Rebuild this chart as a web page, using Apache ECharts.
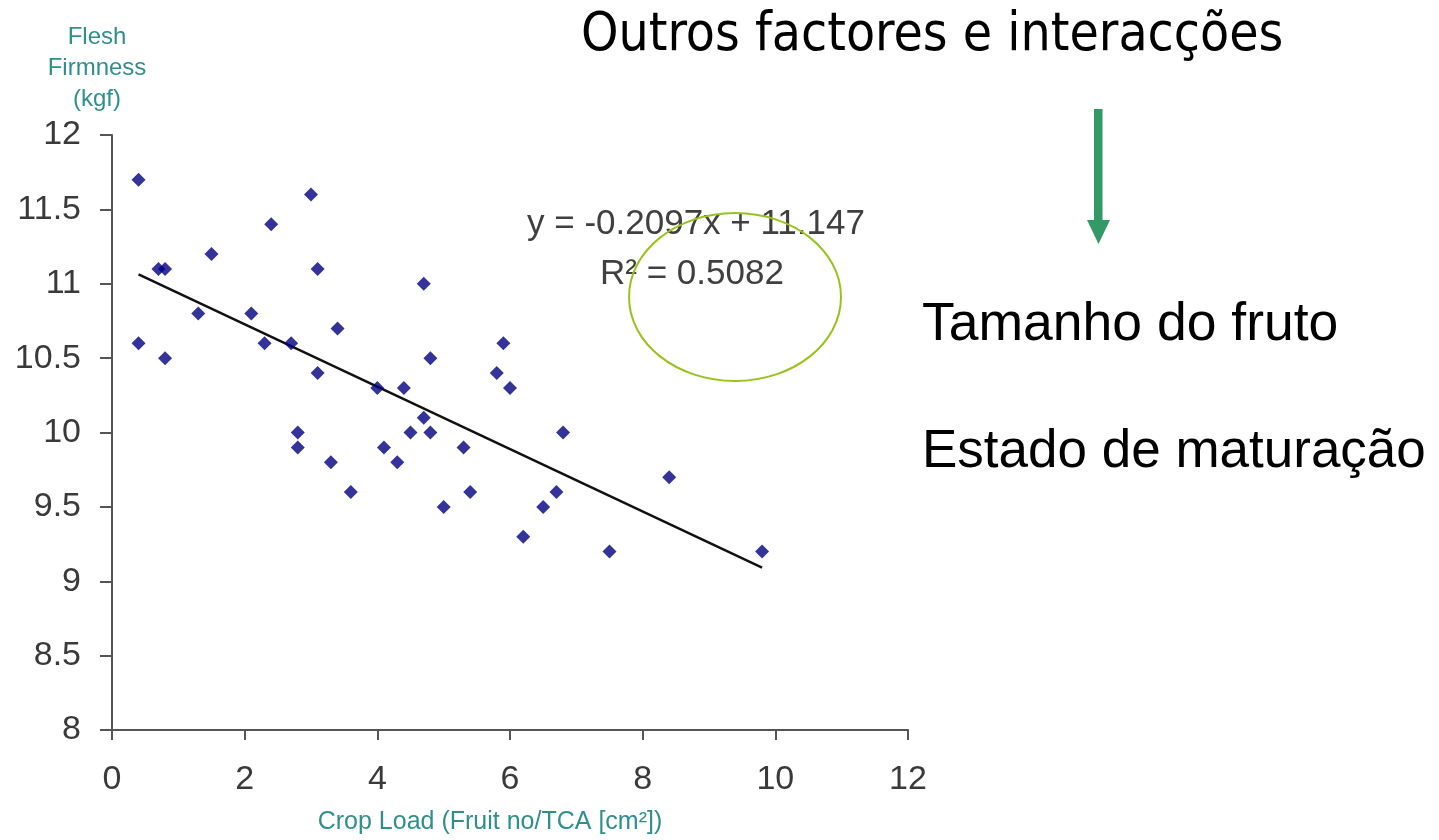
<!DOCTYPE html>
<html>
<head>
<meta charset="utf-8">
<script src="https://cdn.jsdelivr.net/npm/echarts@6/dist/echarts.min.js"></script>
<style>
html,body{margin:0;padding:0;background:#fff;}
#chart{width:1439px;height:840px;}
</style>
</head>
<body>
<div id="chart"></div>
<script>
// Crop load (x) values
var cropLoad = [0.4, 3.0, 2.4, 1.5, 0.7, 0.8, 3.1, 4.7, 1.3, 2.1, 3.4, 0.4, 2.3, 2.7, 5.9, 0.8, 4.8, 3.1, 5.8, 4.0, 4.4, 6.0, 4.7, 2.8, 4.5, 4.8, 6.8, 2.8, 4.1, 5.3, 3.3, 4.3, 8.4, 3.6, 5.4, 6.7, 5.0, 6.5, 6.2, 7.5, 9.8];
// Flesh firmness (y) values
var firmness = [11.7, 11.6, 11.4, 11.2, 11.1, 11.1, 11.1, 11.0, 10.8, 10.8, 10.7, 10.6, 10.6, 10.6, 10.6, 10.5, 10.5, 10.4, 10.4, 10.3, 10.3, 10.3, 10.1, 10.0, 10.0, 10.0, 10.0, 9.9, 9.9, 9.9, 9.8, 9.8, 9.7, 9.6, 9.6, 9.6, 9.5, 9.5, 9.3, 9.2, 9.2];
// Regression coefficients
var trendSlope = [-0.2097];
var trendIntercept = [11.147];
var rSquared = ['0.5082'];
// Tick labels
var xTicks = ['0', '2', '4', '6', '8', '10', '12'];
var yTicks = ['8', '8.5', '9', '9.5', '10', '10.5', '11', '11.5', '12'];
// Texts
var yName = 'Flesh\nFirmness\n(kgf)';
var xName = 'Crop Load (Fruit no/TCA [cm²])';
var sideTitle = 'Outros factores e interacções';
var sideItems = ['Tamanho do fruto', 'Estado de maturação'];

var points = cropLoad.map(function (x, i) { return [x, firmness[i]]; });
var xMinData = Math.min.apply(null, cropLoad);
var xMaxData = Math.max.apply(null, cropLoad);
var trend = [xMinData, xMaxData].map(function (x) { return [x, trendSlope[0] * x + trendIntercept[0]]; });

var axisColor = '#555555';
var labelColor = '#3a3a3a';
var nameColor = '#2f8f8c';

var chart = echarts.init(document.getElementById('chart'));
chart.setOption({
  animation: false,
  backgroundColor: '#ffffff',
  grid: { left: 112, right: 531, top: 135, bottom: 107 },
  xAxis: {
    type: 'value', min: 0, max: 12, interval: 2,
    name: xName, nameLocation: 'middle', nameGap: 80,
    nameTextStyle: { color: nameColor, fontSize: 25, padding: [0, 40, 0, 0], fontFamily: '"Liberation Sans", Arial, sans-serif' },
    axisLine: { show: true, onZero: false, lineStyle: { color: axisColor, width: 2 } },
    axisTick: { show: true, length: 10, lineStyle: { color: axisColor, width: 2 } },
    axisLabel: { margin: 33, color: labelColor, fontSize: 34, fontFamily: '"Liberation Sans", Arial, sans-serif',
      formatter: function (v) { return xTicks[Math.round(v / 2)]; } },
    splitLine: { show: false }
  },
  yAxis: {
    type: 'value', min: 8, max: 12, interval: 0.5,
    name: yName, nameLocation: 'end', nameGap: 20,
    nameTextStyle: { color: nameColor, fontSize: 24, lineHeight: 31, align: 'center', padding: [0, 30, 0, 0], fontFamily: '"Liberation Sans", Arial, sans-serif' },
    axisLine: { show: true, lineStyle: { color: axisColor, width: 2 } },
    axisTick: { show: true, length: 12, lineStyle: { color: axisColor, width: 2 } },
    axisLabel: { margin: 31, color: labelColor, fontSize: 34, fontFamily: '"Liberation Sans", Arial, sans-serif',
      formatter: function (v) { return yTicks[Math.round((v - 8) / 0.5)]; } },
    splitLine: { show: false }
  },
  series: [
    {
      type: 'line', data: trend, symbol: 'none', silent: true,
      lineStyle: { color: '#111111', width: 2.5 }, z: 2
    },
    {
      type: 'scatter', data: points, symbol: 'diamond', symbolSize: 14,
      itemStyle: { color: '#000080' }, z: 3
    }
  ],
  graphic: [
    { type: 'text', left: 527, top: 207, style: { text: 'y = ' + trendSlope[0].toFixed(4) + 'x + ' + trendIntercept[0].toFixed(3), fill: '#404040', font: '35px "Liberation Sans", Arial, sans-serif' } },
    { type: 'text', left: 600, top: 257, style: { text: 'R² = ' + rSquared[0], fill: '#404040', font: '35px "Liberation Sans", Arial, sans-serif' } },
    { type: 'ellipse', shape: { cx: 735, cy: 297, rx: 106, ry: 84 }, style: { fill: 'none', stroke: '#99c31c', lineWidth: 2 } },
    { type: 'text', left: 581, top: 10, style: { text: sideTitle, fill: '#000000', font: '53px "DejaVu Sans Condensed", "DejaVu Sans", sans-serif' } },
    { type: 'rect', shape: { x: 1094, y: 109, width: 8.5, height: 113 }, style: { fill: '#339966' } },
    { type: 'polygon', shape: { points: [[1087, 220], [1110, 220], [1098.5, 244]] }, style: { fill: '#339966' } },
    { type: 'text', left: 922, top: 298, style: { text: sideItems[0], fill: '#000000', font: '53.5px "Liberation Sans", Arial, sans-serif' } },
    { type: 'text', left: 922, top: 426, style: { text: sideItems[1], fill: '#000000', font: '53px "Liberation Sans", Arial, sans-serif' } }
  ]
});
</script>
</body>
</html>
